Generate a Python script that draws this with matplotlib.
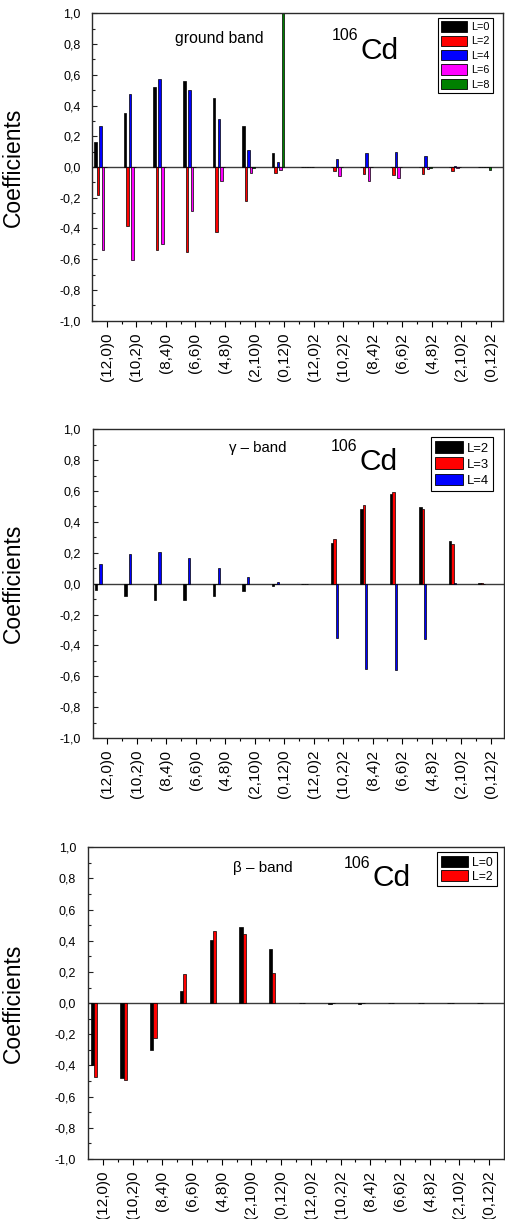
import matplotlib
matplotlib.use("Agg")
import matplotlib.pyplot as plt
from matplotlib.patches import Patch
from matplotlib.ticker import MultipleLocator, FixedLocator, FuncFormatter
import numpy as np

plt.rcParams['font.family'] = ['Liberation Sans', 'DejaVu Sans']

W, H = 505, 1219

categories = ["(12,0)0", "(10,2)0", "(8,4)0", "(6,6)0", "(4,8)0", "(2,10)0", "(0,12)0",
              "(12,0)2", "(10,2)2", "(8,4)2", "(6,6)2", "(4,8)2", "(2,10)2", "(0,12)2"]

# ground band
g_L0 = [0.16, 0.35, 0.52, 0.56, 0.45, 0.265, 0.09, 0, 0, 0, 0, 0, 0, -0.003]
g_L2 = [-0.185, -0.387, -0.539, -0.554, -0.422, -0.22, -0.037, 0, -0.024, -0.043, -0.05, -0.046, -0.028, -0.003]
g_L4 = [0.27, 0.474, 0.572, 0.502, 0.315, 0.111, 0.03, 0, 0.052, 0.089, 0.098, 0.07, 0.009, 0]
g_L6 = [-0.537, -0.604, -0.50, -0.289, -0.091, -0.037, -0.02, 0, -0.059, -0.089, -0.072, -0.01, -0.004, -0.003]
g_L8 = [0, 0, 0, 0, 0, -0.005, 1.0, 0, 0, 0, 0, -0.005, 0, -0.017]

# gamma band
gam_L2 = [-0.041, -0.078, -0.104, -0.104, -0.078, -0.045, -0.013, 0, 0.266, 0.484, 0.581, 0.495, 0.276, 0.003]
gam_L3 = [0, 0, 0, 0, 0, 0, 0, 0, 0.289, 0.51, 0.594, 0.484, 0.257, 0.002]
gam_L4 = [0.127, 0.192, 0.205, 0.166, 0.10, 0.045, 0.011, 0, -0.354, -0.555, -0.559, -0.356, 0.003, 0]

# beta band
b_L0 = [-0.40, -0.482, -0.298, 0.079, 0.405, 0.486, 0.345, 0, -0.004, -0.004, 0, 0, 0, 0]
b_L2 = [-0.473, -0.495, -0.225, 0.184, 0.463, 0.443, 0.193, 0, 0, 0, 0, 0, 0, 0]

fig = plt.figure(figsize=(W / 100, H / 100), dpi=100)


def axes_px(l, t, r, b):
    return fig.add_axes([l / W, 1 - b / H, (r - l) / W, (b - t) / H])


def ftxt(x, y, s, **kw):
    fig.text(x / W, 1 - y / H, s, **kw)


def style(ax, xlim, ylabel_x):
    ax.set_ylim(-1, 1)
    ax.set_xlim(*xlim)
    ax.axhline(0, color='#3a3a3a', lw=1.0, zorder=1)
    x = np.arange(len(categories))
    ax.xaxis.set_major_locator(FixedLocator(x))
    ax.xaxis.set_minor_locator(FixedLocator(x[:-1] + 0.5))
    ax.set_xticklabels(categories, rotation=90, fontsize=11)
    ax.yaxis.set_major_locator(MultipleLocator(0.2))
    ax.yaxis.set_minor_locator(MultipleLocator(0.1))
    ax.yaxis.set_major_formatter(FuncFormatter(lambda v, p: ("%.1f" % v).replace('.', ',').replace('-0,0', '0,0')))
    ax.tick_params(axis='y', which='both', direction='in', labelsize=9, pad=8.5, color='#222222')
    ax.tick_params(axis='y', which='major', length=3.5, width=0.8)
    ax.tick_params(axis='y', which='minor', length=2.5, width=0.8)
    ax.tick_params(axis='x', which='major', direction='out', length=4, width=0.8, pad=4.5)
    ax.tick_params(axis='x', which='minor', direction='out', length=2, width=0.8)
    for sp in ax.spines.values():
        sp.set_color('#2a2a2a')
        sp.set_linewidth(1.0)
    ax.set_ylabel("Coefficients", fontsize=16.5)
    ax.yaxis.set_label_coords(ylabel_x, 0.5)


def bars(ax, series, colors, start, width):
    x = np.arange(len(categories))
    for i, (vals, c) in enumerate(zip(series, colors)):
        ax.bar(x + start + i * width, vals, width=width, align='edge', color=c,
               edgecolor='black', linewidth=0.5, zorder=2)


def legend(ax, labels, colors, fs, hl, hh, ls, anchor):
    handles = [Patch(facecolor=c, edgecolor='black', linewidth=0.6) for c in colors]
    lg = ax.legend(handles, labels, loc='upper right', bbox_to_anchor=anchor, fontsize=fs,
                   handlelength=hl, handleheight=hh, labelspacing=ls, handletextpad=0.35,
                   borderpad=0.3, borderaxespad=0, fancybox=False, framealpha=1,
                   edgecolor='black')
    lg.get_frame().set_linewidth(0.8)


green = '#008000'

# ---- top: ground band
ax1 = axes_px(92.3, 13.3, 502.7, 320.7)
style(ax1, (-0.49, 13.4), (25 - 92.3) / 410.4)
bars(ax1, [g_L0, g_L2, g_L4, g_L6, g_L8], ['black', 'red', 'blue', 'magenta', green], -0.42, 0.085)
legend(ax1, ['L=0', 'L=2', 'L=4', 'L=6', 'L=8'], ['black', 'red', 'blue', 'magenta', green],
       7.8, 2.4, 1.1, 0.32, ((493 - 92.3) / 410.4, (320.7 - 18) / 307.4))
ftxt(175, 43.3, "ground band", fontsize=11.3, va='baseline', ha='left')
ftxt(332, 40, "106", fontsize=11.5, va='baseline', ha='left')
ftxt(360, 59, "Cd", fontsize=21.5, va='baseline', ha='left')

# ---- middle: gamma band
ax2 = axes_px(92.7, 429.3, 504, 738)
style(ax2, (-0.49, 13.45), (25 - 92.7) / 411.3)
bars(ax2, [gam_L2, gam_L3, gam_L4], ['black', 'red', 'blue'], -0.42, 0.08)
legend(ax2, ['L=2', 'L=3', 'L=4'], ['black', 'red', 'blue'],
       9.4, 2.15, 1.0, 0.22, ((493.3 - 92.7) / 411.3, (738 - 437.3) / 308.7))
ftxt(229.3, 452.3, "γ – band", fontsize=10.8, va='baseline', ha='left')
ftxt(331, 451, "106", fontsize=11.5, va='baseline', ha='left')
ftxt(359.5, 470, "Cd", fontsize=21.5, va='baseline', ha='left')

# ---- bottom: beta band
ax3 = axes_px(88, 847.3, 504, 1159)
style(ax3, (-0.5, 13.5), (25 - 88) / 416)
bars(ax3, [b_L0, b_L2], ['black', 'red'], -0.41, 0.11)
legend(ax3, ['L=0', 'L=2'], ['black', 'red'],
       8.8, 2.2, 1.05, 0.08, ((496.7 - 88) / 416, (1159 - 852.3) / 311.7))
ftxt(233.3, 871.7, "β – band", fontsize=11, va='baseline', ha='left')
ftxt(344, 867.5, "106", fontsize=11.5, va='baseline', ha='left')
ftxt(373, 886.5, "Cd", fontsize=21.5, va='baseline', ha='left')

fig.savefig("out.png", dpi=100)
